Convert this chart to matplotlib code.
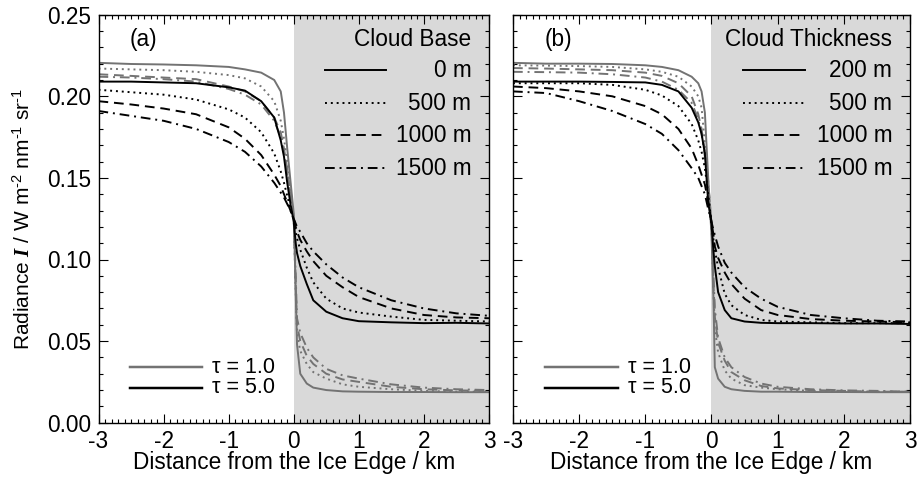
import matplotlib
matplotlib.use('Agg')
import matplotlib.pyplot as plt
import numpy as np

plt.rcParams['font.family'] = ['Liberation Sans', 'DejaVu Sans']
plt.rcParams['axes.unicode_minus'] = False
plt.rcParams['mathtext.fontset'] = 'custom'
plt.rcParams['mathtext.rm'] = 'Liberation Sans'
plt.rcParams['mathtext.it'] = 'Liberation Serif:italic:bold'

# distance from the ice edge (km), shared by all curves
dist = [-3, -2.5, -2, -1.5, -1, -0.75, -0.5, -0.3, -0.2, -0.15, -0.1, -0.05, 0,
        0.03, 0.05, 0.1, 0.2, 0.3, 0.5, 0.75, 1, 1.5, 2, 2.5, 3]

# (a) cloud base height, tau = 5.0
base_labels = ['0 m', '500 m', '1000 m', '1500 m']
base_tau5 = [
    [0.209, 0.209, 0.2085, 0.208, 0.2055, 0.2035, 0.197, 0.187, 0.173, 0.163, 0.147, 0.134, 0.123,
     0.110, 0.104, 0.096, 0.085, 0.075, 0.068, 0.064, 0.0622, 0.0615, 0.061, 0.0612, 0.0608],
    [0.204, 0.2025, 0.201, 0.198, 0.192, 0.187, 0.178, 0.165, 0.154, 0.147, 0.139, 0.131, 0.124,
     0.117, 0.113, 0.106, 0.095, 0.086, 0.076, 0.070, 0.0675, 0.065, 0.063, 0.0625, 0.062],
    [0.197, 0.195, 0.1925, 0.189, 0.181, 0.174, 0.164, 0.152, 0.145, 0.140, 0.135, 0.130, 0.125,
     0.120, 0.117, 0.112, 0.105, 0.099, 0.090, 0.083, 0.077, 0.070, 0.066, 0.0645, 0.064],
    [0.191, 0.188, 0.185, 0.180, 0.172, 0.166, 0.157, 0.147, 0.141, 0.138, 0.134, 0.130, 0.125,
     0.122, 0.120, 0.117, 0.110, 0.105, 0.097, 0.089, 0.083, 0.075, 0.070, 0.067, 0.0655],
]
# (a) cloud base height, tau = 1.0
base_tau1 = [
    [0.2205, 0.2198, 0.2195, 0.219, 0.218, 0.2165, 0.2145, 0.210, 0.203, 0.190, 0.168, 0.148, 0.128,
     0.080, 0.048, 0.030, 0.024, 0.0215, 0.020, 0.0192, 0.019, 0.0188, 0.0188, 0.0187, 0.0187],
    [0.217, 0.2165, 0.216, 0.215, 0.213, 0.211, 0.206, 0.197, 0.185, 0.174, 0.160, 0.143, 0.125,
     0.080, 0.055, 0.044, 0.036, 0.031, 0.027, 0.0235, 0.022, 0.0205, 0.0195, 0.019, 0.019],
    [0.2135, 0.2125, 0.2115, 0.2105, 0.206, 0.203, 0.197, 0.187, 0.178, 0.168, 0.155, 0.140, 0.125,
     0.085, 0.060, 0.050, 0.041, 0.036, 0.030, 0.0265, 0.025, 0.022, 0.0205, 0.0198, 0.0195],
    [0.212, 0.2115, 0.2105, 0.209, 0.2045, 0.201, 0.195, 0.185, 0.175, 0.165, 0.153, 0.139, 0.125,
     0.090, 0.064, 0.055, 0.046, 0.040, 0.033, 0.029, 0.027, 0.0235, 0.0215, 0.0205, 0.020],
]

# (b) cloud thickness, tau = 5.0
thick_labels = ['200 m', '500 m', '1000 m', '1500 m']
thick_tau5 = [
    [0.209, 0.209, 0.209, 0.2088, 0.2085, 0.207, 0.203, 0.193, 0.184, 0.177, 0.165, 0.135, 0.122,
     0.105, 0.096, 0.080, 0.069, 0.064, 0.062, 0.0612, 0.061, 0.061, 0.0608, 0.0608, 0.0605],
    [0.208, 0.208, 0.208, 0.207, 0.204, 0.2005, 0.194, 0.183, 0.173, 0.166, 0.156, 0.140, 0.122,
     0.112, 0.106, 0.095, 0.079, 0.072, 0.066, 0.063, 0.062, 0.0615, 0.061, 0.061, 0.061],
    [0.206, 0.205, 0.203, 0.200, 0.194, 0.189, 0.180, 0.168, 0.158, 0.152, 0.146, 0.135, 0.123,
     0.115, 0.108, 0.101, 0.092, 0.085, 0.076, 0.069, 0.066, 0.0635, 0.0625, 0.062, 0.0615],
    [0.203, 0.202, 0.197, 0.191, 0.183, 0.177, 0.167, 0.156, 0.150, 0.145, 0.140, 0.131, 0.123,
     0.118, 0.115, 0.108, 0.098, 0.092, 0.083, 0.076, 0.071, 0.066, 0.064, 0.0625, 0.062],
]
# (b) cloud thickness, tau = 1.0
thick_tau1 = [
    [0.2205, 0.220, 0.220, 0.2198, 0.219, 0.218, 0.216, 0.212, 0.208, 0.203, 0.190, 0.150, 0.115,
     0.075, 0.034, 0.027, 0.022, 0.0205, 0.0195, 0.019, 0.019, 0.0188, 0.0188, 0.0187, 0.0187],
    [0.219, 0.2188, 0.2185, 0.218, 0.2165, 0.215, 0.212, 0.206, 0.200, 0.193, 0.171, 0.141, 0.120,
     0.080, 0.058, 0.043, 0.032, 0.027, 0.023, 0.0215, 0.0205, 0.0195, 0.019, 0.019, 0.0188],
    [0.2173, 0.217, 0.2165, 0.216, 0.2145, 0.2125, 0.208, 0.200, 0.189, 0.180, 0.166, 0.148, 0.122,
     0.085, 0.065, 0.049, 0.038, 0.031, 0.026, 0.0225, 0.021, 0.020, 0.0195, 0.019, 0.019],
    [0.215, 0.2148, 0.2145, 0.2135, 0.2115, 0.209, 0.204, 0.196, 0.186, 0.177, 0.163, 0.146, 0.122,
     0.090, 0.070, 0.052, 0.040, 0.034, 0.028, 0.024, 0.022, 0.0205, 0.0198, 0.0195, 0.019],
]

styles = ['-', (0, (1, 2)), (0, (5, 3)), (0, (5, 2.5, 1, 2.5))]
gray = '0.45'
lw = 1.4
fs = 16.3

fig = plt.figure(figsize=(9.17, 4.8), dpi=100)
ax_a = fig.add_axes([98.5 / 917, 1 - 422.7 / 480, 390.5 / 917, 408 / 480])
ax_b = fig.add_axes([513 / 917, 1 - 422.7 / 480, 397 / 917, 408 / 480])


def draw_panel(ax, tau1, tau5, title, labels, tag):
    ax.axvspan(0, 3, color='#d9d9d9', lw=0, zorder=0)
    for ys, ls in zip(tau1, styles):
        ax.plot(dist, ys, color=gray, linestyle=ls, lw=lw, zorder=2)
    for ys, ls in zip(tau5, styles):
        ax.plot(dist, ys, color='k', linestyle=ls, lw=lw, zorder=3)

    ax.set_xlim(-3, 3)
    ax.set_ylim(0, 0.25)
    ax.set_xticks(np.arange(-3, 4, 1))
    ax.set_xticks(np.arange(-3, 3.01, 0.1), minor=True)
    ax.set_yticks(np.arange(0, 0.2501, 0.05))
    ax.set_yticks(np.arange(0, 0.2501, 0.01), minor=True)
    ax.tick_params(which='both', direction='in', top=True, right=True, labelsize=fs, width=0.8)
    ax.tick_params(which='major', length=6.5, pad=5)
    ax.tick_params(which='minor', length=3)
    for s in ax.spines.values():
        s.set_linewidth(1.0)
    ax.set_xlabel('Distance from the Ice Edge / km', fontsize=fs, labelpad=-1)

    tr = ax.transAxes
    ax.text(0.08, 0.938, tag, transform=tr, fontsize=fs, va='center', ha='left')
    # line style key, upper right
    ax.text(0.955, 0.938, title, transform=tr, fontsize=fs, va='center', ha='right')
    for ls, lab, yk in zip(styles, labels, [0.864, 0.783, 0.705, 0.624]):
        ax.plot([0.58, 0.735], [yk, yk], transform=tr, color='k', linestyle=ls, lw=lw)
        ax.text(0.955, yk, lab, transform=tr, fontsize=fs, va='center', ha='right')
    # optical depth key, lower left
    for col, lab, yk in zip([gray, 'k'], ['τ = 1.0', 'τ = 5.0'], [0.136, 0.086]):
        ax.plot([0.08, 0.265], [yk, yk], transform=tr, color=col, lw=lw + 0.4)
        ax.text(0.29, yk, lab, transform=tr, fontsize=15.5, va='center', ha='left')


draw_panel(ax_a, base_tau1, base_tau5, 'Cloud Base', base_labels, '(a)')
draw_panel(ax_b, thick_tau1, thick_tau5, 'Cloud Thickness', thick_labels, '(b)')

ax_a.yaxis.set_major_formatter(matplotlib.ticker.FormatStrFormatter('%.2f'))
ax_a.set_ylabel(r'Radiance $\mathit{I}$ / W m$^{\text{-2}}$ nm$^{\text{-1}}$ sr$^{\text{-1}}$',
                fontsize=15, labelpad=10)
ax_b.set_yticklabels([])

fig.savefig('out.png', dpi=100)
